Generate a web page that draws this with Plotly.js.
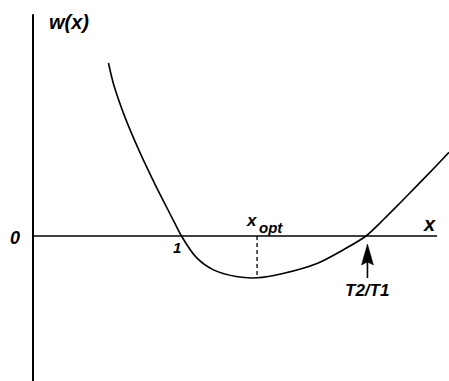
<!DOCTYPE html>
<html>
<head>
<meta charset="utf-8">
<script src="https://cdn.plot.ly/plotly-3.0.1.min.js"></script>
<style>html,body{margin:0;padding:0;background:#fff;}#chart{width:449px;height:381px;}</style>
</head>
<body>
<div id="chart"></div>
<script>
// curve w(x) (x: 1 at first zero, y: min ≈ -1)
var curveX = [0.510, 0.544, 0.622, 0.723, 0.838, 0.939, 1.003, 1.105, 1.216, 1.372, 1.514, 1.689, 1.919, 2.095, 2.250, 2.372, 2.480, 2.595, 2.730, 2.811];
var curveY = [4.220, 3.707, 2.893, 2.034, 1.163, 0.449, 0.000, -0.529, -0.820, -0.988, -1.020, -0.915, -0.671, -0.341, 0.000, 0.415, 0.805, 1.227, 1.732, 2.039];
var xOpt = 1.514;
var wMin = -1.020;
var ratioT = 2.26;
var axisXEnd = 2.73;
var axisYTop = 5.41;

var labelFont = {family: 'Liberation Sans, Arial, sans-serif', color: '#000', weight: 'bold', style: 'italic'};
function f(size){ return Object.assign({}, labelFont, {size: size}); }

var traces = [
  {x: curveX, y: curveY, mode: 'lines', line: {color: '#000', width: 1.6, shape: 'spline', smoothing: 0.8}, hoverinfo: 'skip'}
];

var layout = {
  width: 449, height: 381,
  margin: {l: 0, r: 0, t: 0, b: 0},
  paper_bgcolor: '#fff', plot_bgcolor: '#fff',
  showlegend: false,
  xaxis: {range: [-0.223, 2.811], visible: false, fixedrange: true},
  yaxis: {range: [-3.537, 5.756], visible: false, fixedrange: true},
  shapes: [
    {type: 'line', x0: 0, x1: 0, y0: -3.6, y1: axisYTop, line: {color: '#000', width: 2}},
    {type: 'line', x0: 0, x1: axisXEnd, y0: 0, y1: 0, line: {color: '#000', width: 1.5}},
    {type: 'line', x0: xOpt, x1: xOpt, y0: 0, y1: wMin, line: {color: '#000', width: 1.3, dash: '4px,3px'}},
    {type: 'path', xsizemode: 'pixel', ysizemode: 'pixel', xanchor: ratioT, yanchor: 0,
     path: 'M0,-8L6,-29L0,-26L-6,-29Z', fillcolor: '#000', line: {color: '#000', width: 0.5}},
    {type: 'line', xsizemode: 'pixel', ysizemode: 'pixel', xanchor: ratioT, yanchor: 0,
     x0: 0, x1: 0, y0: -26, y1: -42, line: {color: '#000', width: 1.6}}
  ],
  annotations: [
    {x: 0.243, y: 5.22, text: 'w(x)', showarrow: false, font: f(20), xanchor: 'center', yanchor: 'middle'},
    {x: -0.12, y: -0.05, text: '0', showarrow: false, font: f(18), xanchor: 'center', yanchor: 'middle'},
    {x: 2.68, y: 0.30, text: 'x', showarrow: false, font: f(20), xanchor: 'center', yanchor: 'middle'},
    {x: 0.97, y: -0.28, text: '1', showarrow: false, font: f(15), xanchor: 'center', yanchor: 'middle'},
    {x: 1.48, y: 0.38, text: 'x', showarrow: false, font: f(17), xanchor: 'center', yanchor: 'middle'},
    {x: 1.61, y: 0.20, text: 'opt', showarrow: false, font: f(15), xanchor: 'center', yanchor: 'middle'},
    {x: 2.26, y: -1.32, text: 'T2/T1', showarrow: false, font: f(17), xanchor: 'center', yanchor: 'middle'}
  ]
};

Plotly.newPlot('chart', traces, layout, {staticPlot: true, displayModeBar: false});
</script>
</body>
</html>
